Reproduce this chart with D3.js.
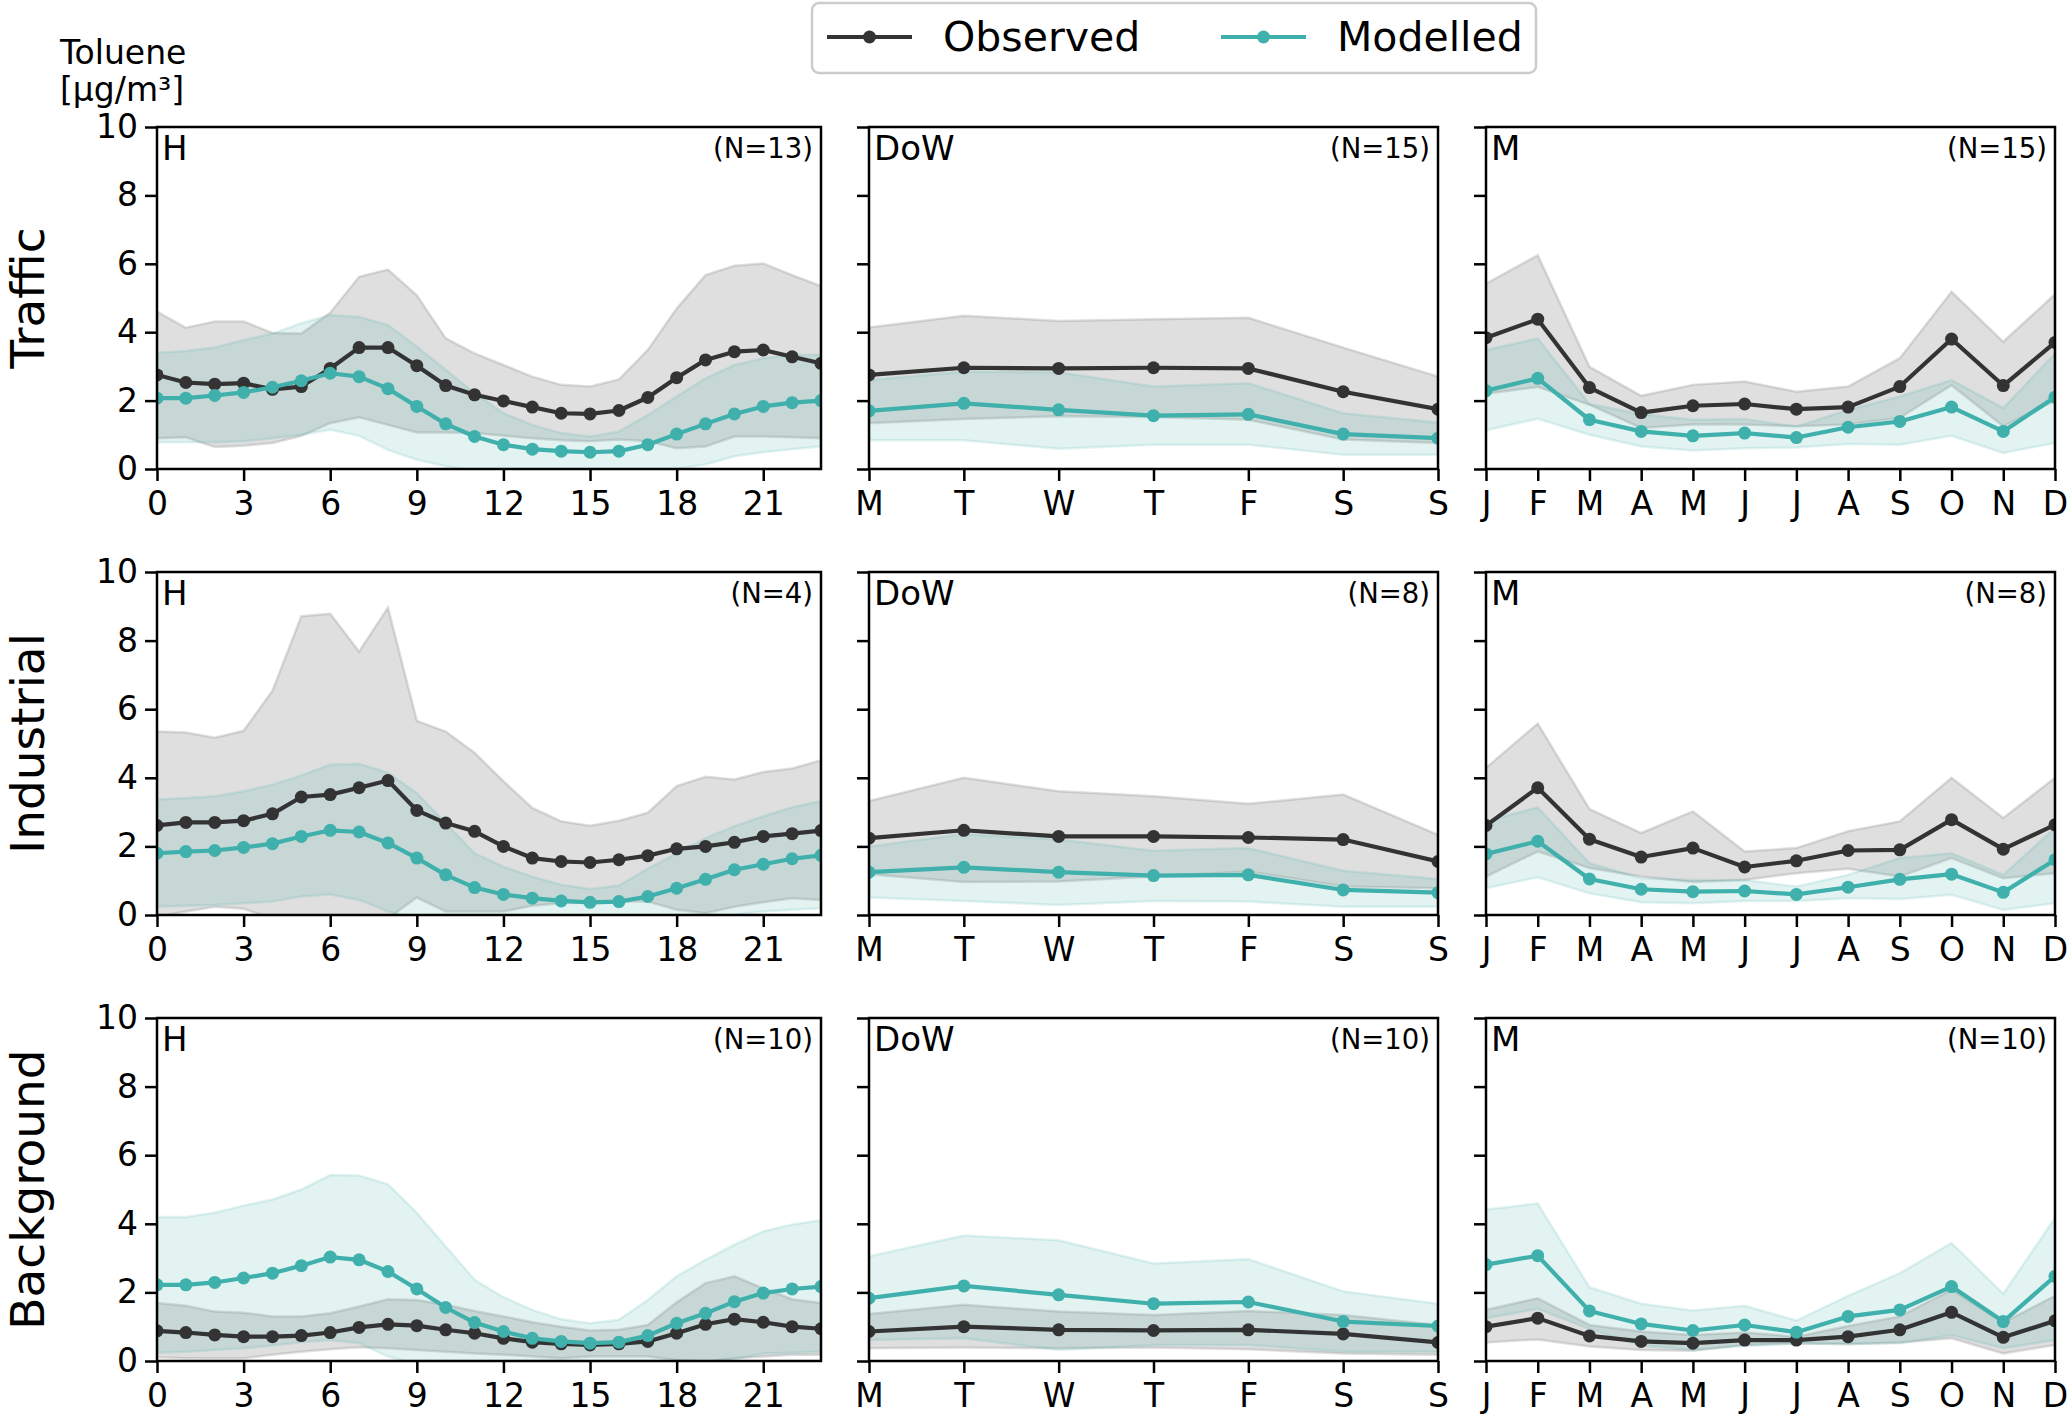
<!DOCTYPE html>
<html><head><meta charset="utf-8">
<script src="https://cdn.jsdelivr.net/npm/d3@7"></script>
<style>
body{margin:0;background:#fff}
svg{display:block}
text{font-family:"DejaVu Sans",sans-serif;fill:#000}
</style>
</head><body>
<svg id="c" width="2067" height="1418"></svg>
<script>
// ---------- categories / labels ----------
const rowNames = ["Traffic","Industrial","Background"];
const panelTags = ["H","DoW","M"];
const nCounts = [[13,15,15],[4,8,8],[10,10,10]];
const hourTicks = [0,3,6,9,12,15,18,21];
const dowLabels = ["M","T","W","T","F","S","S"];
const monthLabels = ["J","F","M","A","M","J","J","A","S","O","N","D"];
const yTicks = [0,2,4,6,8,10];

// ---------- Traffic ----------
const trafficHourObs   = [2.75,2.53,2.48,2.51,2.33,2.41,2.94,3.55,3.55,3.02,2.44,2.17,1.99,1.81,1.63,1.61,1.71,2.09,2.67,3.19,3.43,3.48,3.28,3.09];
const trafficHourObsLo = [0.90,0.93,0.64,0.68,0.76,0.97,1.34,1.51,1.29,1.07,1.07,1.05,0.97,0.90,0.84,0.81,0.86,0.81,0.61,0.66,0.95,0.95,0.93,0.90];
const trafficHourObsHi = [4.60,4.13,4.31,4.31,3.98,3.96,4.57,5.62,5.83,5.08,3.82,3.38,3.04,2.70,2.46,2.41,2.62,3.48,4.69,5.67,5.94,6.01,5.67,5.35];
const trafficHourMod   = [2.07,2.07,2.15,2.24,2.39,2.58,2.80,2.70,2.35,1.83,1.32,0.95,0.71,0.58,0.52,0.49,0.52,0.71,1.02,1.32,1.61,1.83,1.94,2.00];
const trafficHourModLo = [0.78,0.78,0.78,0.81,0.90,1.00,1.15,0.97,0.56,0.27,0.08,-0.05,-0.2,-0.3,-0.3,-0.3,-0.2,-0.1,0.0,0.13,0.37,0.49,0.58,0.66];
const trafficHourModHi = [3.40,3.45,3.55,3.77,3.96,4.26,4.50,4.45,4.21,3.58,2.90,2.22,1.63,1.29,1.05,0.95,1.10,1.58,2.12,2.65,3.04,3.24,3.33,3.35];

const trafficDowObs   = [2.75,2.96,2.94,2.96,2.94,2.26,1.75];
const trafficDowObsLo = [1.34,1.46,1.54,1.52,1.44,0.86,0.76];
const trafficDowObsHi = [4.14,4.48,4.33,4.38,4.42,3.55,2.70];
const trafficDowMod   = [1.70,1.92,1.73,1.56,1.60,1.02,0.90];
const trafficDowModLo = [0.84,0.84,0.59,0.71,0.71,0.42,0.42];
const trafficDowModHi = [2.60,2.85,2.83,2.41,2.51,1.63,1.36];

const trafficMonObs   = [3.84,4.38,2.38,1.65,1.85,1.90,1.75,1.81,2.41,3.80,2.44,3.70];
const trafficMonObsLo = [2.20,2.40,1.88,1.20,1.30,1.30,1.25,1.30,1.50,2.45,1.25,2.00];
const trafficMonObsHi = [5.42,6.25,2.99,2.14,2.46,2.56,2.26,2.41,3.24,5.18,3.72,5.11];
const trafficMonMod   = [2.29,2.65,1.44,1.10,0.97,1.05,0.92,1.22,1.39,1.81,1.10,2.10];
const trafficMonModLo = [1.13,1.47,1.00,0.66,0.54,0.61,0.63,0.73,0.71,0.97,0.47,0.76];
const trafficMonModHi = [3.48,3.82,1.90,1.61,1.44,1.46,1.24,1.73,2.12,2.60,1.78,3.38];

// ---------- Industrial ----------
const industrialHourObs   = [2.61,2.70,2.70,2.75,2.95,3.44,3.51,3.71,3.92,3.05,2.68,2.44,2.00,1.66,1.56,1.53,1.61,1.73,1.93,2.00,2.12,2.29,2.37,2.46];
const industrialHourObsLo = [-0.05,0.10,0.24,0.18,-0.10,-0.20,-0.30,-0.30,-0.10,0.51,0.10,0.10,0.10,0.27,0.34,0.37,0.39,0.39,0.15,0.05,0.24,0.37,0.49,0.44];
const industrialHourObsHi = [5.35,5.32,5.17,5.37,6.54,8.71,8.78,7.68,8.96,5.66,5.35,4.73,3.90,3.12,2.73,2.60,2.75,2.98,3.76,4.03,3.95,4.17,4.27,4.51];
const industrialHourMod   = [1.80,1.85,1.88,1.97,2.08,2.29,2.47,2.42,2.10,1.66,1.17,0.80,0.60,0.49,0.41,0.37,0.39,0.54,0.78,1.04,1.32,1.48,1.64,1.74];
const industrialHourModLo = [0.24,0.27,0.29,0.34,0.39,0.54,0.60,0.44,0.10,-0.10,-0.30,-0.40,-0.40,-0.40,-0.40,-0.40,-0.30,-0.30,-0.20,-0.10,0.00,0.10,0.15,0.20];
const industrialHourModHi = [3.37,3.41,3.46,3.61,3.80,4.07,4.39,4.41,4.15,3.56,2.68,1.80,1.41,1.12,0.88,0.76,0.86,1.35,1.80,2.24,2.59,2.88,3.14,3.32];

const industrialDowObs   = [2.24,2.47,2.29,2.29,2.26,2.20,1.56];
const industrialDowObsLo = [1.19,0.96,0.98,1.12,1.27,0.83,0.78];
const industrialDowObsHi = [3.32,4.00,3.61,3.46,3.24,3.51,2.34];
const industrialDowMod   = [1.25,1.39,1.25,1.15,1.17,0.73,0.65];
const industrialDowModLo = [0.51,0.41,0.29,0.41,0.39,0.24,0.24];
const industrialDowModHi = [2.00,2.36,2.20,1.87,1.95,1.29,1.05];

const industrialMonObs   = [2.61,3.71,2.21,1.69,1.95,1.40,1.58,1.88,1.90,2.78,1.92,2.63];
const industrialMonObsLo = [1.12,1.85,1.37,1.12,0.96,1.02,1.22,1.35,1.12,1.66,1.07,1.22];
const industrialMonObsHi = [4.29,5.58,3.09,2.39,3.02,1.85,1.95,2.44,2.73,4.00,2.83,4.00];
const industrialMonMod   = [1.78,2.15,1.05,0.75,0.68,0.70,0.60,0.81,1.04,1.19,0.66,1.61];
const industrialMonModLo = [0.78,1.10,0.63,0.37,0.34,0.41,0.41,0.49,0.47,0.59,0.15,0.34];
const industrialMonModHi = [2.73,3.14,1.51,1.07,1.02,1.02,0.83,1.17,1.66,1.80,1.17,2.54];

// ---------- Background ----------
const backgroundHourObs   = [0.88,0.83,0.76,0.71,0.71,0.74,0.83,0.98,1.07,1.03,0.91,0.81,0.66,0.55,0.50,0.47,0.50,0.57,0.81,1.07,1.22,1.13,1.00,0.94];
const backgroundHourObsLo = [0.11,0.08,0.08,0.08,0.18,0.27,0.34,0.40,0.37,0.32,0.27,0.22,0.18,0.13,0.08,0.13,0.13,0.13,0.03,-0.02,0.08,0.13,0.18,0.18];
const backgroundHourObsHi = [1.69,1.61,1.44,1.41,1.30,1.30,1.39,1.59,1.80,1.78,1.64,1.46,1.30,1.13,1.00,0.89,0.91,1.05,1.71,2.27,2.47,2.12,1.80,1.69];
const backgroundHourMod   = [2.22,2.22,2.29,2.42,2.56,2.78,3.03,2.95,2.61,2.10,1.56,1.12,0.86,0.66,0.57,0.52,0.55,0.74,1.10,1.39,1.73,1.98,2.10,2.17];
const backgroundHourModLo = [0.24,0.27,0.32,0.37,0.45,0.55,0.61,0.52,0.13,-0.10,-0.20,-0.30,-0.30,-0.30,-0.30,-0.30,-0.30,-0.20,-0.15,-0.05,0.05,0.22,0.24,0.27];
const backgroundHourModHi = [4.20,4.20,4.32,4.53,4.71,5.00,5.42,5.41,5.15,4.32,3.34,2.37,1.86,1.49,1.22,1.10,1.20,1.78,2.47,2.95,3.39,3.78,3.98,4.10];

const backgroundDowObs   = [0.86,1.00,0.91,0.89,0.91,0.79,0.54];
const backgroundDowObsLo = [0.37,0.39,0.37,0.39,0.34,0.22,0.18];
const backgroundDowObsHi = [1.37,1.64,1.44,1.34,1.46,1.34,1.05];
const backgroundDowMod   = [1.83,2.19,1.93,1.67,1.72,1.15,1.02];
const backgroundDowModLo = [0.61,0.66,0.32,0.47,0.47,0.27,0.27];
const backgroundDowModHi = [3.05,3.66,3.52,2.84,2.97,2.03,1.67];

const backgroundMonObs   = [1.00,1.25,0.73,0.57,0.52,0.61,0.61,0.71,0.91,1.42,0.69,1.17];
const backgroundMonObsLo = [0.54,0.63,0.42,0.32,0.30,0.47,0.52,0.49,0.54,0.66,0.22,0.47];
const backgroundMonObsHi = [1.49,1.83,1.05,0.86,0.76,0.83,0.71,1.02,1.30,2.08,1.12,1.90];
const backgroundMonMod   = [2.81,3.07,1.46,1.08,0.89,1.05,0.84,1.30,1.49,2.17,1.15,2.47];
const backgroundMonModLo = [1.25,1.52,0.93,0.45,0.32,0.44,0.50,0.50,0.52,0.75,0.37,0.61];
const backgroundMonModHi = [4.42,4.59,2.15,1.67,1.47,1.61,1.18,1.90,2.56,3.44,1.96,4.17];

// ---------- assemble ----------
const grid = [
  [[trafficHourObs,trafficHourObsLo,trafficHourObsHi,trafficHourMod,trafficHourModLo,trafficHourModHi],
   [trafficDowObs,trafficDowObsLo,trafficDowObsHi,trafficDowMod,trafficDowModLo,trafficDowModHi],
   [trafficMonObs,trafficMonObsLo,trafficMonObsHi,trafficMonMod,trafficMonModLo,trafficMonModHi]],
  [[industrialHourObs,industrialHourObsLo,industrialHourObsHi,industrialHourMod,industrialHourModLo,industrialHourModHi],
   [industrialDowObs,industrialDowObsLo,industrialDowObsHi,industrialDowMod,industrialDowModLo,industrialDowModHi],
   [industrialMonObs,industrialMonObsLo,industrialMonObsHi,industrialMonMod,industrialMonModLo,industrialMonModHi]],
  [[backgroundHourObs,backgroundHourObsLo,backgroundHourObsHi,backgroundHourMod,backgroundHourModLo,backgroundHourModHi],
   [backgroundDowObs,backgroundDowObsLo,backgroundDowObsHi,backgroundDowMod,backgroundDowModLo,backgroundDowModHi],
   [backgroundMonObs,backgroundMonObsLo,backgroundMonObsHi,backgroundMonMod,backgroundMonModLo,backgroundMonModHi]]
];

const obsColor = "#333333", modColor = "#3fb0ab", bandGrey = "#808080";
const colX = [[157,821],[869,1438],[1486,2055]];
const rowY = [[127,469],[572,915],[1018,1361]];
const xDomains = [[0,23],[0,6],[0,11]];
const xTickVals = [hourTicks, d3.range(7), d3.range(12)];
const xTickFmt = [d=>String(d), i=>dowLabels[i], i=>monthLabels[i]];

const svg = d3.select("#c");
const defs = svg.append("defs");

grid.forEach((row, r) => {
  row.forEach((p, c) => {
    const [obs, obsLo, obsHi, mod, modLo, modHi] = p;
    const [x0, x1] = colX[c], [y0, y1] = rowY[r];
    const x = d3.scaleLinear().domain(xDomains[c]).range([x0, x1]);
    const y = d3.scaleLinear().domain([0, 10]).range([y1, y0]);
    const id = `clip${r}${c}`;
    defs.append("clipPath").attr("id", id).append("rect")
      .attr("x", x0).attr("y", y0).attr("width", x1 - x0).attr("height", y1 - y0);
    const g = svg.append("g");
    const plot = g.append("g").attr("clip-path", `url(#${id})`);

    const band = (lo, hi) => d3.area().x((d, i) => x(i)).y0((d, i) => y(lo[i])).y1((d, i) => y(hi[i]))(lo);
    plot.append("path").attr("d", band(obsLo, obsHi))
      .attr("fill", bandGrey).attr("fill-opacity", 0.25)
      .attr("stroke", bandGrey).attr("stroke-opacity", 0.25).attr("stroke-width", 2.5);
    plot.append("path").attr("d", band(modLo, modHi))
      .attr("fill", modColor).attr("fill-opacity", 0.15)
      .attr("stroke", modColor).attr("stroke-opacity", 0.15).attr("stroke-width", 2.5);

    const line = d3.line().x((d, i) => x(i)).y(d => y(d));
    [[obs, obsColor], [mod, modColor]].forEach(([vals, col]) => {
      plot.append("path").attr("d", line(vals)).attr("fill", "none")
        .attr("stroke", col).attr("stroke-width", 4.2).attr("stroke-linejoin", "round");
      plot.selectAll(null).data(vals).enter().append("circle")
        .attr("cx", (d, i) => x(i)).attr("cy", d => y(d)).attr("r", 6.5).attr("fill", col);
    });

    // axes
    const ya = d3.axisLeft(y).tickValues(yTicks).tickSize(12).tickPadding(7);
    if (c > 0) ya.tickFormat("");
    const yg = g.append("g").attr("transform", `translate(${x0},0)`).call(ya);
    const xa = d3.axisBottom(x).tickValues(xTickVals[c]).tickFormat(xTickFmt[c]).tickSize(12).tickPadding(11);
    const xg = g.append("g").attr("transform", `translate(0,${y1})`).call(xa);
    [yg, xg].forEach(a => {
      a.select(".domain").remove();
      a.selectAll(".tick line").attr("stroke", "#000").attr("stroke-width", 2.5);
      a.selectAll(".tick text").attr("font-size", 33).attr("font-family", "DejaVu Sans").attr("fill", "#000");
    });
    g.append("rect").attr("x", x0).attr("y", y0).attr("width", x1 - x0).attr("height", y1 - y0)
      .attr("fill", "none").attr("stroke", "#000").attr("stroke-width", 2.5);

    g.append("text").attr("x", x0 + 5).attr("y", y0 + 33).attr("font-size", 34).text(panelTags[c]);
    g.append("text").attr("x", x1 - 8).attr("y", y0 + 31).attr("font-size", 27.5)
      .attr("text-anchor", "end").text(`(N=${nCounts[r][c]})`);
  });
  // row label
  const cy = (rowY[r][0] + rowY[r][1]) / 2;
  svg.append("text").attr("transform", `translate(44,${cy}) rotate(-90)`)
    .attr("text-anchor", "middle").attr("font-size", 47).text(rowNames[r]);
});

// y label
svg.append("text").attr("x", 60).attr("y", 64).attr("font-size", 33).text("Toluene");
svg.append("text").attr("x", 60).attr("y", 101).attr("font-size", 33).text("[μg/m³]");

// legend
const lg = svg.append("g");
lg.append("rect").attr("x", 812).attr("y", 3).attr("width", 724).attr("height", 70).attr("rx", 7)
  .attr("fill", "#fff").attr("stroke", "#cccccc").attr("stroke-width", 2.5);
const legendItems = [["Observed", obsColor, 827], ["Modelled", modColor, 1221]];
legendItems.forEach(([name, col, lx]) => {
  lg.append("line").attr("x1", lx).attr("x2", lx + 85).attr("y1", 37).attr("y2", 37)
    .attr("stroke", col).attr("stroke-width", 4.2);
  lg.append("circle").attr("cx", lx + 42.5).attr("cy", 37).attr("r", 6.5).attr("fill", col);
  lg.append("text").attr("x", lx + 116).attr("y", 51).attr("font-size", 41).text(name);
});
</script>
</body></html>
